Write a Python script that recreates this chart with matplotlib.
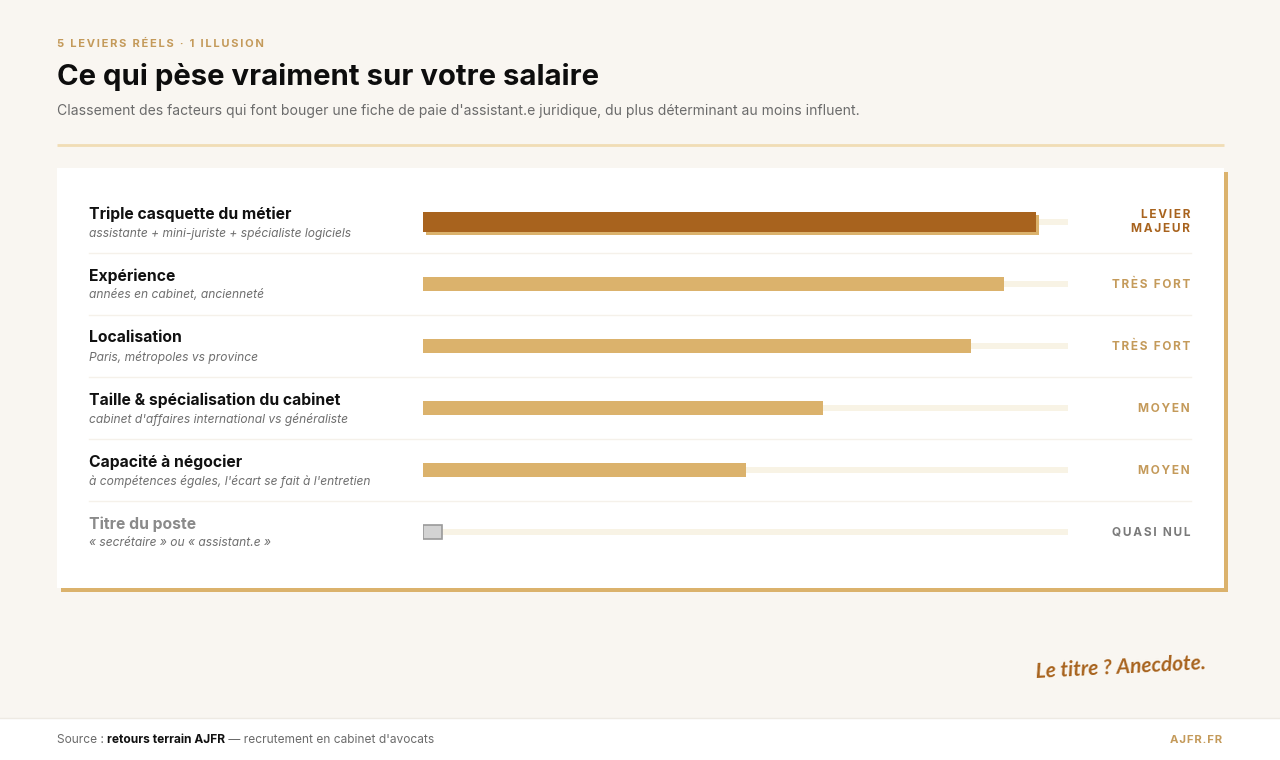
import matplotlib

matplotlib.use("Agg")
import matplotlib.pyplot as plt  # noqa: E402
from matplotlib.patches import Rectangle  # noqa: E402

# ---- data -------------------------------------------------------------
factors = [
    "Triple casquette du métier",
    "Expérience",
    "Localisation",
    "Taille & spécialisation du cabinet",
    "Capacité à négocier",
    "Titre du poste",
]
details = [
    "assistante + mini-juriste + spécialiste logiciels",
    "années en cabinet, ancienneté",
    "Paris, métropoles vs province",
    "cabinet d'affaires international vs généraliste",
    "à compétences égales, l'écart se fait à l'entretien",
    "« secrétaire » ou « assistant.e »",
]
weights = [95, 90, 85, 62, 50, 3]
verdicts = ["LEVIER\nMAJEUR", "TRÈS FORT", "TRÈS FORT", "MOYEN", "MOYEN", "QUASI NUL"]

# ---- style ------------------------------------------------------------
BG = "#f9f6f1"
GOLD = "#dbb26c"
DARK = "#a8631e"
LABEL_GOLD = "#c49a5a"
TRACK = "#f8f3e5"
FONT = ["Inter", "DejaVu Sans"]
plt.rcParams["font.family"] = FONT

W, H = 1280, 760
fig = plt.figure(figsize=(W / 100, H / 100), dpi=100, facecolor=BG)
bg = fig.add_axes([0, 0, 1, 1])
bg.set_xlim(0, W)
bg.set_ylim(H, 0)
bg.axis("off")


def spaced(s, gap="\u200a\u200a"):
    return gap.join(s)


# header
bg.text(57, 44, spaced("5 LEVIERS RÉELS · 1 ILLUSION"), fontsize=8,
        fontweight="bold", color=LABEL_GOLD, va="center")
bg.text(57, 77, "Ce qui pèse vraiment sur votre salaire", fontsize=21.1, fontweight="bold",
        color="#0d0d0d", va="center")
bg.text(57, 111, "Classement des facteurs qui font bouger une fiche de paie d'assistant.e juridique, "
        "du plus déterminant au moins influent.", fontsize=10.05, color="#6b6b6b", va="center")
bg.plot([57, 1224], [145, 145], color="#f1ddb5", lw=2, solid_capstyle="butt")

# card with offset gold shadow
bg.add_patch(Rectangle((61, 172), 1167, 420, facecolor=GOLD, edgecolor="none"))
bg.add_patch(Rectangle((57, 168), 1167, 420, facecolor="white", edgecolor="none"))

# row layout
row0, pitch = 222, 62
n = len(factors)
for i in range(n - 1):
    y = row0 + pitch * i + pitch / 2
    bg.plot([89, 1191], [y, y], color="#f5f1ea", lw=1)

for i, (f, d, v) in enumerate(zip(factors, details, verdicts)):
    yc = row0 + pitch * i
    last = i == n - 1
    bg.text(89, yc - 8, f, fontsize=11.3, fontweight="bold",
            color="#8a8a8a" if last else "#111111", va="center")
    bg.text(89, yc + 11, d, fontsize=8.65, style="italic", color="#6f6f6f", va="center")
    col = DARK if i == 0 else ("#7a7a7a" if last else LABEL_GOLD)
    txt = "\n".join(spaced(p) for p in v.split("\n"))
    bg.text(1190, yc + (0 if "\n" in v else 1), txt, fontsize=8.5, fontweight="bold", color=col,
            ha="right", va="center", multialignment="right", linespacing=1.3)

# bars
ax = fig.add_axes([423 / W, 1 - (row0 + pitch * (n - 1) + pitch / 2) / H,
                   645 / W, pitch * n / H])
ax.set_xlim(0, 100)
ax.set_ylim(n - 0.5, -0.5)
ax.axis("off")
ax.patch.set_alpha(0)
ys = list(range(n))
ax.barh(ys, [100] * n, height=6 / pitch, color=TRACK, zorder=1)
# shadow under the top bar
ax.barh(ys[0] + 3 / pitch, weights[0], left=0.47, height=20 / pitch, color=GOLD, zorder=2)
ax.barh(ys[0], weights[0], height=20 / pitch, color=DARK, zorder=3)
ax.barh(ys[1:-1], weights[1:-1], height=14 / pitch, color=GOLD, zorder=3)
ax.barh(ys[-1], weights[-1], height=14 / pitch, color="#d3d3d3", edgecolor="#9a9a9a",
        linewidth=1.2, zorder=3)

# handwritten note
bg.text(1121, 668, "Le titre ? Anecdote.", fontsize=15, fontweight="bold", style="italic",
        color=DARK, ha="center", va="center", rotation=3, family=["Lato", "DejaVu Sans"])

# footer
bg.add_patch(Rectangle((0, 718), W, 42, facecolor="white", edgecolor="none"))
bg.plot([0, W], [718, 718], color="#eeeae3", lw=1)
renderer = fig.canvas.get_renderer()
x = 57
for s, wgt, c in [("Source : ", "normal", "#6b6b6b"), ("retours terrain AJFR", "bold", "#111111"),
                  (" — recrutement en cabinet d'avocats", "normal", "#6b6b6b")]:
    t = bg.text(x, 740, s, fontsize=8.6, fontweight=wgt, color=c, va="center")
    bb = t.get_window_extent(renderer)
    x += bb.width
bg.text(1222, 740, spaced("AJFR.FR", "\u200a"), fontsize=8.2, fontweight="bold",
        color=LABEL_GOLD, ha="right", va="center")

fig.savefig("out.png", dpi=100, facecolor=BG)
plt.close(fig)
